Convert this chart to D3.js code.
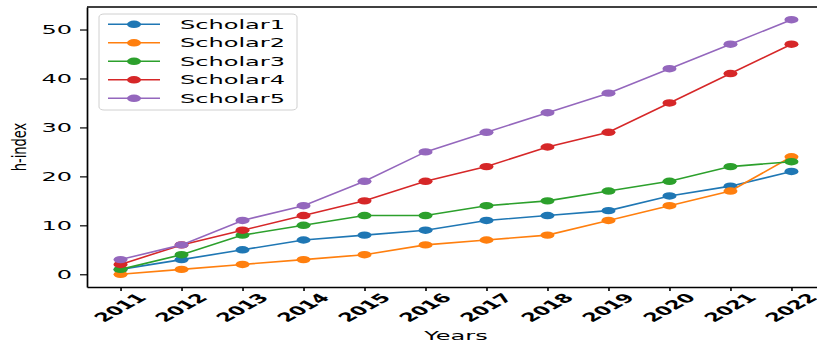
<!DOCTYPE html>
<html>
<head>
<meta charset="utf-8">
<script src="https://cdn.jsdelivr.net/npm/d3@7"></script>
<style>
  html, body { margin: 0; padding: 0; background: #fff; }
  svg { display: block; }
  text { font-family: "DejaVu Sans", sans-serif; }
</style>
</head>
<body>
<svg id="chart" width="817" height="345"></svg>
<script>
// ---- data ----
const years = [2011, 2012, 2013, 2014, 2015, 2016, 2017, 2018, 2019, 2020, 2021, 2022];
const seriesNames = ["Scholar1", "Scholar2", "Scholar3", "Scholar4", "Scholar5"];
const scholar1 = [1, 3, 5, 7, 8, 9, 11, 12, 13, 16, 18, 21];
const scholar2 = [0, 1, 2, 3, 4, 6, 7, 8, 11, 14, 17, 24];
const scholar3 = [1, 4, 8, 10, 12, 12, 14, 15, 17, 19, 22, 23];
const scholar4 = [2, 6, 9, 12, 15, 19, 22, 26, 29, 35, 41, 47];
const scholar5 = [3, 6, 11, 14, 19, 25, 29, 33, 37, 42, 47, 52];
const yTicks = [0, 10, 20, 30, 40, 50];
const xLabel = "Years";
const yLabel = "h-index";
const colors = ["#1f77b4", "#ff7f0e", "#2ca02c", "#d62728", "#9467bd"];

const seriesValues = [scholar1, scholar2, scholar3, scholar4, scholar5];

// ---- layout ----
const SX = 1.85;        // horizontal stretch of the reference
const FS = 13;
const mLeft = 87, mRight = 825, mTop = 7, mBottom = 287;

const svg = d3.select("#chart");

const x = d3.scaleLinear().domain([2010.45, 2022.55]).range([mLeft, mRight]);
const y = d3.scaleLinear().domain([-2.6, 54.6]).range([mBottom, mTop]);

// ---- lines & markers ----
const line = d3.line().x(d => x(d.year)).y(d => y(d.v));
seriesValues.forEach((vals, i) => {
  const pts = years.map((yr, j) => ({ year: yr, v: vals[j] }));
  const g = svg.append("g");
  g.append("path")
    .datum(pts)
    .attr("d", line)
    .attr("fill", "none")
    .attr("stroke", colors[i])
    .attr("stroke-width", 1.6);
  g.selectAll("ellipse")
    .data(pts)
    .enter()
    .append("ellipse")
    .attr("cx", d => x(d.year))
    .attr("cy", d => y(d.v))
    .attr("rx", 7)
    .attr("ry", 3.7)
    .attr("fill", colors[i]);
});

// ---- axes ----
const yAxis = d3.axisLeft(y).tickValues(yTicks).tickSize(7).tickSizeOuter(0).tickFormat(d3.format("d"));
const gy = svg.append("g").attr("transform", `translate(${mLeft},0)`).call(yAxis);
gy.select(".domain").attr("stroke", "#000").attr("stroke-width", 1.7);
gy.selectAll(".tick line").attr("stroke", "#000").attr("stroke-width", 1.2);
gy.selectAll(".tick text")
  .attr("x", null).attr("dy", null)
  .attr("transform", "translate(-15,0) scale(" + SX + ",1)")
  .attr("dominant-baseline", "central")
  .attr("text-anchor", "end")
  .attr("font-size", FS)
  .attr("font-family", "DejaVu Sans")
  .attr("fill", "#000");

const xAxis = d3.axisBottom(x).tickValues(years).tickSize(4).tickSizeOuter(0).tickFormat(d3.format("d"));
const gx = svg.append("g").attr("transform", `translate(0,${mBottom})`).call(xAxis);
gx.select(".domain").attr("stroke", "#000").attr("stroke-width", 1.3);
gx.selectAll(".tick line").attr("stroke", "#000").attr("stroke-width", 1.6);
gx.selectAll(".tick text")
  .attr("y", null).attr("dy", null)
  .attr("transform", "translate(-1,20.5) scale(" + SX + ",1) rotate(-46)")
  .attr("dominant-baseline", "central")
  .attr("text-anchor", "middle")
  .attr("font-size", 12.2)
  .attr("font-weight", "bold")
  .attr("font-family", "DejaVu Sans")
  .attr("fill", "#000");

// top spine
svg.append("line")
  .attr("x1", mLeft).attr("x2", mRight)
  .attr("y1", mTop).attr("y2", mTop)
  .attr("stroke", "#000").attr("stroke-width", 1.3);
// right spine
svg.append("line")
  .attr("x1", mRight).attr("x2", mRight)
  .attr("y1", mTop).attr("y2", mBottom)
  .attr("stroke", "#000").attr("stroke-width", 1.7);

// ---- axis labels ----
svg.append("text")
  .attr("transform", `translate(456,340) scale(${SX},1)`)
  .attr("text-anchor", "middle")
  .attr("font-size", FS)
  .attr("fill", "#000")
  .text(xLabel);

svg.append("text")
  .attr("transform", `translate(26,${(mTop + mBottom) / 2}) scale(${SX * 0.8},1) rotate(-90)`)
  .attr("text-anchor", "middle")
  .attr("font-size", FS)
  .attr("fill", "#000")
  .text(yLabel);

// ---- legend ----
const lg = svg.append("g");
lg.append("rect")
  .attr("x", 99).attr("y", 14)
  .attr("width", 198).attr("height", 96)
  .attr("rx", 5).attr("ry", 3)
  .attr("fill", "#fff").attr("fill-opacity", 0.8)
  .attr("stroke", "#d0d0d0").attr("stroke-width", 1);
seriesNames.forEach((name, i) => {
  const cy = 24.3 + i * 18.5;
  lg.append("line")
    .attr("x1", 108).attr("x2", 160)
    .attr("y1", cy).attr("y2", cy)
    .attr("stroke", colors[i]).attr("stroke-width", 1.6);
  lg.append("ellipse")
    .attr("cx", 134).attr("cy", cy)
    .attr("rx", 7).attr("ry", 3.7)
    .attr("fill", colors[i]);
  lg.append("text")
    .attr("transform", `translate(180,${cy}) scale(${SX},1)`)
    .attr("dominant-baseline", "central")
    .attr("font-size", FS)
    .attr("fill", "#000")
    .text(name);
});
</script>
</body>
</html>
